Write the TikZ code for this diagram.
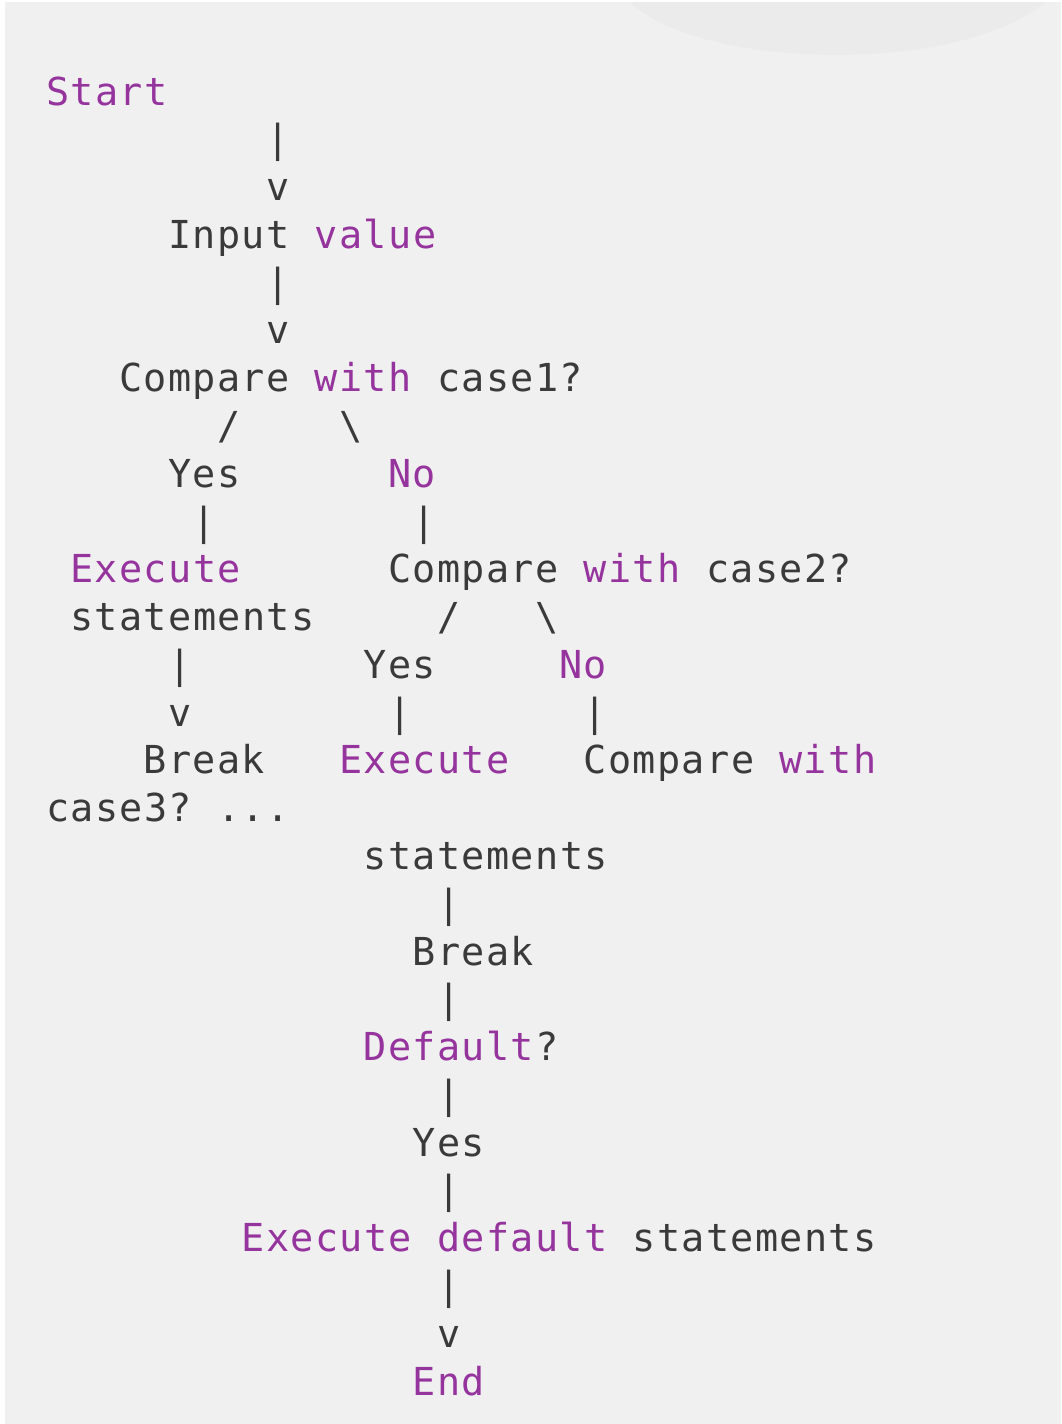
\documentclass[tikz,border=0pt]{standalone}
\usepackage{fontspec}
\newfontfamily\codefont[LetterSpace=3.5]{DejaVu Sans Mono}
\definecolor{pagebg}{RGB}{240,240,240}
\definecolor{topshade}{RGB}{235,235,235}
\definecolor{kw}{RGB}{150,52,158}
\definecolor{plain}{RGB}{58,58,58}
% character grid of the listing
\def\xo{46}
\def\yo{105}
\def\cw{24.45}
\def\lh{47.78}
\begin{document}
\begin{tikzpicture}[x=1pt,y=-1pt,
  tok/.style={anchor=base west,inner sep=0pt,outer sep=0pt,text=plain,
    font=\codefont\fontsize{38.5pt}{47pt}\selectfont},
  key/.style={tok,text=kw}]
\useasboundingbox (0,0) rectangle (1061,1424);
\fill[white] (0,0) rectangle (1061,1424);
\fill[pagebg] (5,2) rectangle (1061,1424);
\fill[topshade] (630,2) .. controls (700,70) and (960,75) .. (1045,2) -- cycle;

% line 0-2
\node[key] (start) at ({\xo+0*\cw},{\yo+0*\lh}) {Start};
\node[tok] (b1) at ({\xo+9*\cw},{\yo+1*\lh}) {|};
\node[tok] (v1) at ({\xo+9*\cw},{\yo+2*\lh}) {v};
% line 3-5
\node[tok] (input) at ({\xo+5*\cw},{\yo+3*\lh}) {Input};
\node[key] (value) at ({\xo+11*\cw},{\yo+3*\lh}) {value};
\node[tok] (b2) at ({\xo+9*\cw},{\yo+4*\lh}) {|};
\node[tok] (v2) at ({\xo+9*\cw},{\yo+5*\lh}) {v};
% line 6-9
\node[tok] (cmpA) at ({\xo+3*\cw},{\yo+6*\lh}) {Compare};
\node[key] (withA) at ({\xo+11*\cw},{\yo+6*\lh}) {with};
\node[tok] (caseA) at ({\xo+16*\cw},{\yo+6*\lh}) {case1?};
\node[tok] (slA) at ({\xo+7*\cw},{\yo+7*\lh}) {/};
\node[tok] (bsA) at ({\xo+12*\cw},{\yo+7*\lh}) {\textbackslash};
\node[tok] (yesA) at ({\xo+5*\cw},{\yo+8*\lh}) {Yes};
\node[key] (noA) at ({\xo+14*\cw},{\yo+8*\lh}) {No};
\node[tok] (b3) at ({\xo+6*\cw},{\yo+9*\lh}) {|};
\node[tok] (b4) at ({\xo+15*\cw},{\yo+9*\lh}) {|};
% line 10-13
\node[key] (execA) at ({\xo+1*\cw},{\yo+10*\lh}) {Execute};
\node[tok] (cmpB) at ({\xo+14*\cw},{\yo+10*\lh}) {Compare};
\node[key] (withB) at ({\xo+22*\cw},{\yo+10*\lh}) {with};
\node[tok] (caseB) at ({\xo+27*\cw},{\yo+10*\lh}) {case2?};
\node[tok] (stA) at ({\xo+1*\cw},{\yo+11*\lh}) {statements};
\node[tok] (slB) at ({\xo+16*\cw},{\yo+11*\lh}) {/};
\node[tok] (bsB) at ({\xo+20*\cw},{\yo+11*\lh}) {\textbackslash};
\node[tok] (b5) at ({\xo+5*\cw},{\yo+12*\lh}) {|};
\node[tok] (yesB) at ({\xo+13*\cw},{\yo+12*\lh}) {Yes};
\node[key] (noB) at ({\xo+21*\cw},{\yo+12*\lh}) {No};
\node[tok] (v3) at ({\xo+5*\cw},{\yo+13*\lh}) {v};
\node[tok] (b6) at ({\xo+14*\cw},{\yo+13*\lh}) {|};
\node[tok] (b7) at ({\xo+22*\cw},{\yo+13*\lh}) {|};
% line 14-16
\node[tok] (brkA) at ({\xo+4*\cw},{\yo+14*\lh}) {Break};
\node[key] (execB) at ({\xo+12*\cw},{\yo+14*\lh}) {Execute};
\node[tok] (cmpC) at ({\xo+22*\cw},{\yo+14*\lh}) {Compare};
\node[key] (withC) at ({\xo+30*\cw},{\yo+14*\lh}) {with};
\node[tok] (caseC) at ({\xo+0*\cw},{\yo+15*\lh}) {case3?};
\node[tok] (dots) at ({\xo+7*\cw},{\yo+15*\lh}) {...};
\node[tok] (stB) at ({\xo+13*\cw},{\yo+16*\lh}) {statements};
% line 17-23
\node[tok] (b8) at ({\xo+16*\cw},{\yo+17*\lh}) {|};
\node[tok] (brkB) at ({\xo+15*\cw},{\yo+18*\lh}) {Break};
\node[tok] (b9) at ({\xo+16*\cw},{\yo+19*\lh}) {|};
\node[key] (dflt) at ({\xo+13*\cw},{\yo+20*\lh}) {Default};
\node[tok] (qm) at ({\xo+20*\cw},{\yo+20*\lh}) {?};
\node[tok] (b10) at ({\xo+16*\cw},{\yo+21*\lh}) {|};
\node[tok] (yesC) at ({\xo+15*\cw},{\yo+22*\lh}) {Yes};
\node[tok] (b11) at ({\xo+16*\cw},{\yo+23*\lh}) {|};
% line 24-27
\node[key] (execC) at ({\xo+8*\cw},{\yo+24*\lh}) {Execute};
\node[key] (dfltB) at ({\xo+16*\cw},{\yo+24*\lh}) {default};
\node[tok] (stC) at ({\xo+24*\cw},{\yo+24*\lh}) {statements};
\node[tok] (b12) at ({\xo+16*\cw},{\yo+25*\lh}) {|};
\node[tok] (v4) at ({\xo+16*\cw},{\yo+26*\lh}) {v};
\node[key] (fin) at ({\xo+15*\cw},{\yo+27*\lh}) {End};
\end{tikzpicture}
\end{document}
